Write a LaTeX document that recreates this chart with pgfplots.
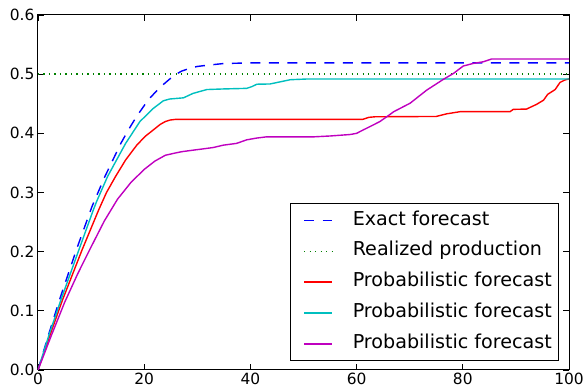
\documentclass[border=0pt]{standalone}
\usepackage{fontspec}
\setmainfont{DejaVu Sans}
\usepackage{pgfplots}
\pgfplotsset{compat=1.18}
\definecolor{mplb}{rgb}{0,0,1}
\definecolor{mplg}{rgb}{0,0.5,0}
\definecolor{mplr}{rgb}{1,0,0}
\definecolor{mplc}{rgb}{0,0.75,0.75}
\definecolor{mplm}{rgb}{0.75,0,0.75}
\begin{document}
\begin{tikzpicture}
\begin{axis}[
  scale only axis,
  width=531bp, height=355bp,
  xmin=0, xmax=100, ymin=0, ymax=0.6,
  xtick={0,20,40,60,80,100},
  ytick={0,0.1,0.2,0.3,0.4,0.5,0.6},
  tick align=inside,
  xtick pos=both, ytick pos=both,
  major tick length=6bp,
  axis line style={line width=1bp, black},
  tick style={line width=0.8bp, black},
  /pgf/number format/assume math mode=true,
  tick label style={font=\fontsize{15.5}{18}\selectfont},
  yticklabel style={/pgf/number format/.cd, fixed, fixed zerofill, precision=1},
  xticklabel style={/pgf/number format/.cd, fixed, precision=0},
  legend cell align=left,
  legend style={
    at={(0.981,0.025)}, anchor=south east,
    draw=black, line width=1bp,
    font=\fontsize{19.2}{22}\selectfont,
    nodes={inner sep=0pt, text height=14bp, text depth=4.5bp},
    inner xsep=6.6bp, inner ysep=7bp,
    row sep=11.5bp, column sep=20bp,
  },
  legend image code/.code={\path (0bp,-9bp) (34bp,9bp); \draw[#1, line width=1.4bp] (6bp,0bp) -- (34bp,0bp);},
  every axis plot/.append style={line width=1.4bp, line join=round},
]
\addplot[mplb, dash pattern=on 10bp off 8.5bp] coordinates {
(0,0) (2,0.06) (4.1,0.12) (7.3,0.205) (10.2,0.277) (12.6,0.327) (15.6,0.383) (17.1,0.407) (18.6,0.429)
(20.8,0.457) (23.0,0.478) (25.5,0.497) (27,0.505) (28.6,0.510) (30,0.513) (31.8,0.515)
(35,0.518) (40,0.519) (100,0.519)};
\addlegendentry{Exact forecast}
\addplot[mplg, dash pattern=on 1.4bp off 4.1bp] coordinates {(0,0.5) (100,0.5)};
\addlegendentry{Realized production}
\addplot[mplr] coordinates {
(0,0) (2.3,0.06) (4.6,0.118) (8.3,0.203) (11.4,0.270) (12.9,0.300) (14.6,0.327) (16.5,0.355) (18.6,0.380)
(20.2,0.395) (21.7,0.4056) (23.0,0.415) (24.0,0.420) (24.9,0.4225) (26,0.4237) (61.2,0.4237)
(62.3,0.427) (63.5,0.428) (75,0.4285) (77,0.433) (79.5,0.4366) (88.9,0.4366) (89.5,0.4405)
(92,0.441) (93.9,0.449) (95.2,0.456) (96,0.466) (97.4,0.474) (98.3,0.486) (99.2,0.49) (100,0.492)};
\addlegendentry{Probabilistic forecast}
\addplot[mplc] coordinates {
(0,0) (2.1,0.06) (4.3,0.118) (7.7,0.203) (10.4,0.270) (11.05,0.285) (13.1,0.327) (16.5,0.383)
(19.2,0.42) (21.7,0.442) (23.6,0.455) (24.8,0.458) (26.1,0.459) (27.4,0.460) (29.2,0.4675) (31.8,0.474)
(34.9,0.475) (39.3,0.476) (40.3,0.479) (41.2,0.483) (43.7,0.4834) (45.6,0.487) (47.5,0.4906)
(50.6,0.4918) (100,0.4918)};
\addlegendentry{Probabilistic forecast}
\addplot[mplm] coordinates {
(0,0) (2.5,0.058) (5,0.114) (7.5,0.163) (10,0.208) (12.5,0.252) (15,0.289) (17.5,0.317) (20,0.339)
(22,0.353) (24,0.363) (26,0.367) (27.1,0.369) (29.6,0.372) (30.5,0.373) (33,0.376) (34.9,0.38)
(37.4,0.383) (39.3,0.389) (41.2,0.392) (43,0.394) (51.8,0.394) (55,0.3955) (58.8,0.398) (60,0.400)
(61.3,0.406) (63.1,0.414) (64.4,0.42) (66.3,0.432) (67,0.4366) (70.1,0.451) (71.5,0.461) (73.2,0.473)
(76.3,0.491) (78.2,0.501) (80.1,0.5138) (81.9,0.518) (83.9,0.521) (85.4,0.5256) (100,0.5256)};
\addlegendentry{Probabilistic forecast}
\end{axis}
\path (current axis.south west) ++(-38bp,-21bp);
\path (current axis.north east) ++(19bp,15bp);
\end{tikzpicture}
\end{document}
